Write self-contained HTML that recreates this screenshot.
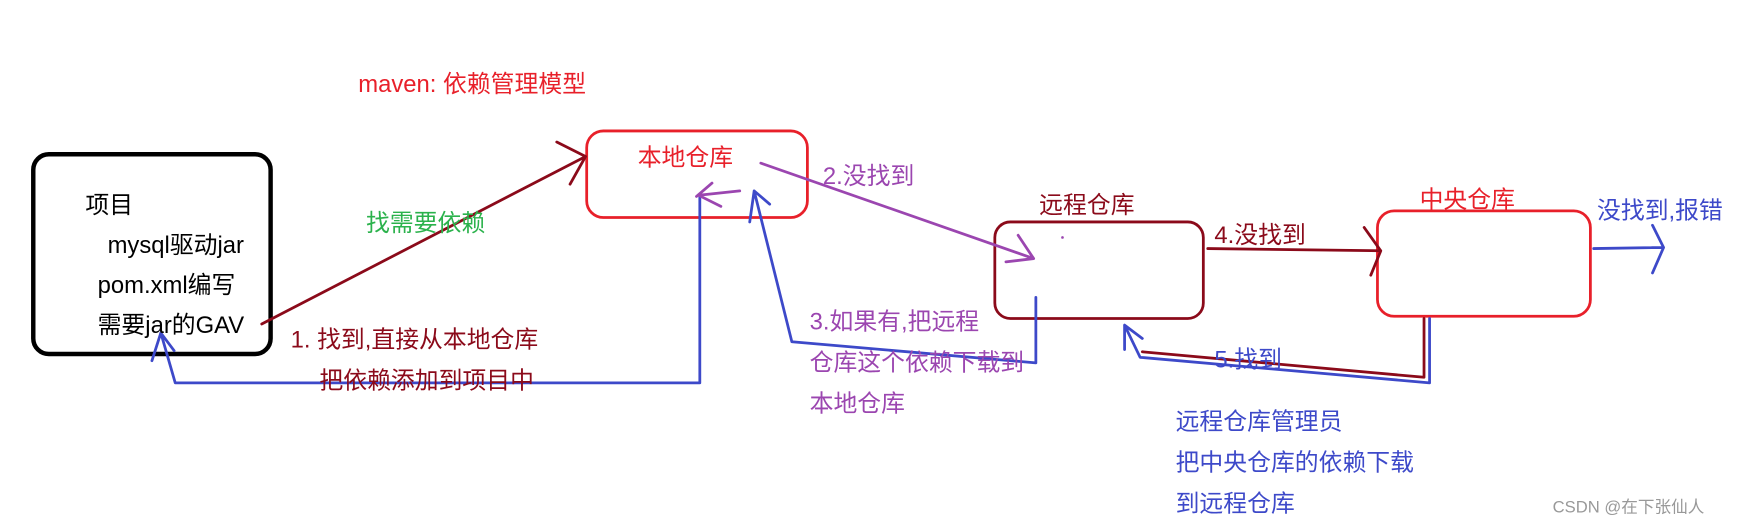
<!DOCTYPE html>
<html><head><meta charset="utf-8"><style>
html,body{margin:0;padding:0;background:#fff;}
svg{display:block;}
text{font-family:"Liberation Sans","Noto Sans CJK SC",sans-serif;font-size:21.5px;}
</style></head><body>
<svg width="1739" height="526" viewBox="0 0 1568 474" preserveAspectRatio="none" xmlns="http://www.w3.org/2000/svg">
<rect width="1568" height="474" fill="#fff"/>
<g fill="none" stroke-linecap="round" stroke-linejoin="round">
<rect x="30" y="139" width="214" height="180" rx="14" stroke="#000" stroke-width="4"/>
<rect x="529" y="118" width="199" height="78" rx="15" stroke="#e8202a" stroke-width="2.5"/>
<rect x="897" y="200" width="188" height="87" rx="14" stroke="#8b0a1a" stroke-width="2.5"/>
<rect x="1242" y="190" width="192" height="95" rx="15" stroke="#e8202a" stroke-width="2.5"/>
<path d="M236 292 L528 141 M502 128 L528 141 L514 166" stroke="#8b0a1a" stroke-width="2.5"/>
<path d="M631 176 L631 345 L158 345 L145 300 M137 325 L145 300 L157 316" stroke="#3d49c9" stroke-width="2.5"/>
<path d="M667 172 L630 176 L650 186 M628 177 L642 165" stroke="#9b46b0" stroke-width="2.5"/>
<path d="M686 147 L932 233 M918 212 L932 233 L907 236" stroke="#9b46b0" stroke-width="2.5"/>
<path d="M934 268 L934 327 L714 308 L680 172 M676 200 L680 172 L694 184" stroke="#3d49c9" stroke-width="2.5"/>
<path d="M1089 224 L1245 226 M1230 205 L1245 226 L1236 248" stroke="#8b0a1a" stroke-width="2.5"/>
<path d="M1289 287 L1289 345 L1028 322 L1014 293 L1014 315 M1014 293 L1030 305" stroke="#3d49c9" stroke-width="2.5"/>
<path d="M1284 287 L1284 340 L1030 317" stroke="#8b0a1a" stroke-width="2.5"/>
<path d="M1437 224 L1500 223 M1490 203 L1500 223 L1490 246" stroke="#3d49c9" stroke-width="2.5"/>
</g>
<text x="323" y="83" fill="#e8202a">maven: 依赖管理模型</text>
<text x="77" y="192" fill="#000">项目</text>
<text x="97" y="228" fill="#000">mysql驱动jar</text>
<text x="88" y="264" fill="#000">pom.xml编写</text>
<text x="88" y="300" fill="#000">需要jar的GAV</text>
<text x="575" y="149" fill="#e8202a">本地仓库</text>
<text x="330" y="208" fill="#2bb24c">找需要依赖</text>
<text x="262" y="313" fill="#8b0a1a">1. 找到,直接从本地仓库</text>
<text x="288" y="350" fill="#8b0a1a">把依赖添加到项目中</text>
<text x="742" y="166" fill="#9b46b0">2.没找到</text>
<text x="937" y="192" fill="#8b0a1a">远程仓库</text>
<text x="730" y="297" fill="#9b46b0">3.如果有,把远程</text>
<text x="730" y="334" fill="#9b46b0">仓库这个依赖下载到</text>
<text x="730" y="371" fill="#9b46b0">本地仓库</text>
<text x="1095" y="219" fill="#8b0a1a">4.没找到</text>
<text x="1280" y="187" fill="#e8202a">中央仓库</text>
<text x="1440" y="197" fill="#3d49c9">没找到,报错</text>
<text x="1095" y="331" fill="#3d49c9">5.找到</text>
<text x="1060" y="387" fill="#3d49c9">远程仓库管理员</text>
<text x="1060" y="424" fill="#3d49c9">把中央仓库的依赖下载</text>
<text x="1060" y="461" fill="#3d49c9">到远程仓库</text>
<text x="1400" y="462" fill="#999" style="font-size:15px">CSDN @在下张仙人</text>
<circle cx="958" cy="214" r="1.2" fill="#9b46b0"/>
</svg>
</body></html>
